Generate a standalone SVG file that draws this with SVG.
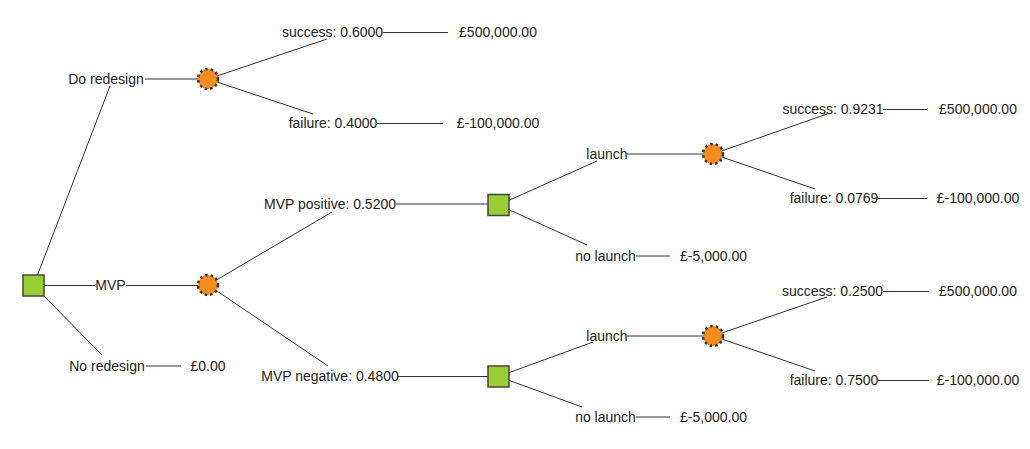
<svg xmlns="http://www.w3.org/2000/svg" width="1030" height="449" viewBox="0 0 1030 449">
<style>
text{font-family:"Liberation Sans",Arial,sans-serif;font-size:14px;fill:#222;text-anchor:middle}
.e{stroke:#333;stroke-width:1;fill:none}
.dec{fill:#9acd32;stroke:#444;stroke-width:1.5}
.ch{fill:#f98b1f;stroke:#333;stroke-width:2.5;stroke-dasharray:2.5 3}
</style>
<rect width="1030" height="449" fill="#fff"/>
<g id="connectors">
<line class="e" x1="33.5" y1="285.5" x2="110" y2="86"/>
<line class="e" x1="33.5" y1="285.5" x2="102" y2="355"/>
<line class="e" x1="44" y1="285.5" x2="95" y2="285.5"/>
<line class="e" x1="126" y1="285.5" x2="200" y2="285.5"/>
<line class="e" x1="145" y1="79" x2="200" y2="79"/>
<line class="e" x1="208" y1="79" x2="327" y2="39"/>
<line class="e" x1="208" y1="79" x2="313" y2="114"/>
<line class="e" x1="383" y1="32.5" x2="448" y2="32.5"/>
<line class="e" x1="377" y1="123.5" x2="443" y2="123.5"/>
<line class="e" x1="208" y1="285" x2="332" y2="212"/>
<line class="e" x1="208" y1="285" x2="328" y2="366"/>
<line class="e" x1="396" y1="204" x2="488" y2="204"/>
<line class="e" x1="398" y1="376.5" x2="488" y2="376.5"/>
<line class="e" x1="498.5" y1="205" x2="597" y2="161"/>
<line class="e" x1="498.5" y1="205" x2="587" y2="245"/>
<line class="e" x1="627" y1="154" x2="705" y2="154"/>
<line class="e" x1="636" y1="256" x2="670" y2="256"/>
<line class="e" x1="498.5" y1="376.5" x2="593" y2="342"/>
<line class="e" x1="498.5" y1="376.5" x2="582" y2="407"/>
<line class="e" x1="627" y1="336" x2="705" y2="336"/>
<line class="e" x1="636" y1="417" x2="670" y2="417"/>
<line class="e" x1="713" y1="154" x2="827" y2="114"/>
<line class="e" x1="713" y1="154" x2="815" y2="189"/>
<line class="e" x1="883" y1="109.5" x2="927" y2="109.5"/>
<line class="e" x1="878" y1="198.5" x2="927" y2="198.5"/>
<line class="e" x1="713" y1="336" x2="827" y2="297"/>
<line class="e" x1="713" y1="336" x2="815" y2="371"/>
<line class="e" x1="883" y1="291.5" x2="929" y2="291.5"/>
<line class="e" x1="878" y1="380.5" x2="929" y2="380.5"/>
<line class="e" x1="146" y1="366" x2="181" y2="366"/>
</g>
<g id="root"><rect class="dec" x="23" y="275" width="21" height="21"/></g>
<g id="chance-redesign"><circle class="ch" cx="208" cy="79" r="10"/></g>
<g id="chance-mvp"><circle class="ch" cx="208" cy="285" r="10"/></g>
<g id="decision-positive"><rect class="dec" x="488" y="194.5" width="21" height="21"/></g>
<g id="decision-negative"><rect class="dec" x="488" y="366" width="21" height="21"/></g>
<g id="chance-launch-pos"><circle class="ch" cx="713" cy="154" r="10"/></g>
<g id="chance-launch-neg"><circle class="ch" cx="713" cy="336" r="10"/></g>
<g id="labels">
<text x="106" y="84">Do redesign</text>
<text x="110.5" y="290">MVP</text>
<text x="107" y="371">No redesign</text>
<text x="208" y="371">£0.00</text>
<text x="332.5" y="37">success: 0.6000</text>
<text x="498" y="37">£500,000.00</text>
<text x="333" y="128">failure: 0.4000</text>
<text x="498" y="128">£-100,000.00</text>
<text x="330" y="209">MVP positive: 0.5200</text>
<text x="330" y="381">MVP negative: 0.4800</text>
<text x="607" y="159">launch</text>
<text x="605.5" y="261">no launch</text>
<text x="713.5" y="261">£-5,000.00</text>
<text x="607" y="341">launch</text>
<text x="605.5" y="422">no launch</text>
<text x="713.5" y="422">£-5,000.00</text>
<text x="833" y="114">success: 0.9231</text>
<text x="978" y="114">£500,000.00</text>
<text x="834" y="203">failure: 0.0769</text>
<text x="978" y="203">£-100,000.00</text>
<text x="832.5" y="296">success: 0.2500</text>
<text x="978" y="296">£500,000.00</text>
<text x="834" y="385">failure: 0.7500</text>
<text x="978" y="385">£-100,000.00</text>
</g>
</svg>
